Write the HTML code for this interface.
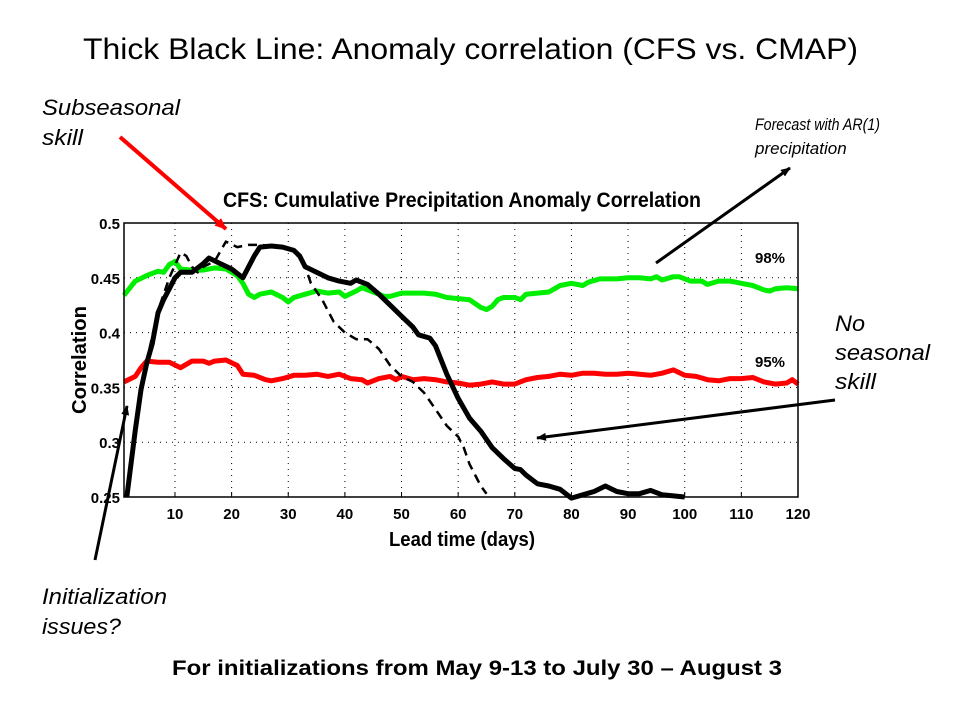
<!DOCTYPE html>
<html><head><meta charset="utf-8"><style>
html,body{margin:0;padding:0;background:#fff;}
svg{display:block;font-family:"Liberation Sans",sans-serif;}
</style></head><body>
<svg id="svg" width="960" height="720" viewBox="0 0 960 720" xmlns="http://www.w3.org/2000/svg">
<defs>
<marker id="ah" markerWidth="10" markerHeight="8" refX="9" refY="4" orient="auto" markerUnits="userSpaceOnUse"><path d="M0,0 L10,4 L0,8 z" fill="#000"/></marker>
<marker id="ahr" markerWidth="12" markerHeight="10" refX="11" refY="5" orient="auto" markerUnits="userSpaceOnUse"><path d="M0,0 L12,5 L0,10 z" fill="#f00"/></marker>
</defs>
<text x="83" y="59" font-size="30" textLength="775" lengthAdjust="spacingAndGlyphs">Thick Black Line: Anomaly correlation (CFS vs. CMAP)</text>
<text x="462" y="207" font-size="21" font-weight="bold" text-anchor="middle" textLength="478" lengthAdjust="spacingAndGlyphs">CFS: Cumulative Precipitation Anomaly Correlation</text>
<g id="grid"></g>
<g id="series"></g>
<rect x="124" y="223" width="674" height="274" fill="none" stroke="#000" stroke-width="1.5"/>
<g id="ticks"></g>
<text x="462" y="546" font-size="20" font-weight="bold" text-anchor="middle" textLength="146" lengthAdjust="spacingAndGlyphs">Lead time (days)</text>
<text transform="translate(86,360) rotate(-90)" font-size="20" font-weight="bold" text-anchor="middle" textLength="108" lengthAdjust="spacingAndGlyphs">Correlation</text>
<text x="755" y="263" font-size="15" font-weight="bold" textLength="30" lengthAdjust="spacingAndGlyphs">98%</text>
<text x="755" y="367" font-size="15" font-weight="bold" textLength="30" lengthAdjust="spacingAndGlyphs">95%</text>
<g font-style="italic" font-size="22">
<text x="42" y="115" textLength="138" lengthAdjust="spacingAndGlyphs">Subseasonal</text>
<text x="42" y="145" textLength="41" lengthAdjust="spacingAndGlyphs">skill</text>
<text x="42" y="604" textLength="125" lengthAdjust="spacingAndGlyphs">Initialization</text>
<text x="42" y="634" textLength="79" lengthAdjust="spacingAndGlyphs">issues?</text>
<text x="835" y="331" textLength="30" lengthAdjust="spacingAndGlyphs">No</text>
<text x="835" y="360" textLength="95" lengthAdjust="spacingAndGlyphs">seasonal</text>
<text x="835" y="389" textLength="41" lengthAdjust="spacingAndGlyphs">skill</text>
</g>
<g font-style="italic" font-size="17">
<text x="755" y="130" textLength="125" lengthAdjust="spacingAndGlyphs">Forecast with AR(1)</text>
<text x="755" y="154">precipitation</text>
</g>
<line x1="120" y1="137" x2="226" y2="229" stroke="#f00" stroke-width="4" marker-end="url(#ahr)"/>
<line x1="656" y1="263" x2="790" y2="168" stroke="#000" stroke-width="3" marker-end="url(#ah)"/>
<line x1="835" y1="400" x2="537" y2="438" stroke="#000" stroke-width="3" marker-end="url(#ah)"/>
<line x1="95" y1="560" x2="127" y2="406" stroke="#000" stroke-width="3" marker-end="url(#ah)"/>
<text x="172" y="675" font-size="21" font-weight="bold" textLength="610" lengthAdjust="spacingAndGlyphs">For initializations from May 9-13 to July 30 – August 3</text>
</svg>
<script>
const xTicks=[10,20,30,40,50,60,70,80,90,100,110,120];
const yTicks=[0.25,0.3,0.35,0.4,0.45,0.5];
const yTickLabels=["0.25","0.3","0.35","0.4","0.45","0.5"];
const greenDays=[1,3,5,7,8,9,10,11,13,15,17,19,21,22,23,24,25,27,29,30,31,33,35,37,39,40,42,43,45,47,48,50,52,54,56,58,60,62,64,65,66,67,68,70,71,72,74,76,77,78,80,82,83,85,88,90,92,94,95,96,98,99,101,103,104,106,108,110,112,114,115,116,118,120];
const greenVals=[0.434,0.447,0.452,0.456,0.455,0.462,0.465,0.458,0.457,0.457,0.459,0.458,0.452,0.445,0.435,0.432,0.435,0.437,0.432,0.428,0.432,0.435,0.438,0.436,0.437,0.433,0.438,0.441,0.437,0.433,0.433,0.436,0.436,0.436,0.435,0.432,0.431,0.43,0.423,0.421,0.424,0.43,0.432,0.432,0.43,0.435,0.436,0.437,0.44,0.443,0.445,0.443,0.446,0.449,0.449,0.45,0.45,0.449,0.451,0.448,0.451,0.451,0.447,0.447,0.444,0.447,0.447,0.445,0.443,0.439,0.438,0.44,0.441,0.44];
const redDays=[1,3,4,5,7,9,11,13,15,16,17,19,21,22,24,26,27,29,31,33,35,37,39,41,43,44,46,48,49,50,52,54,56,58,60,62,64,66,68,70,72,74,76,78,80,82,84,86,88,90,92,94,96,98,100,102,104,106,108,110,112,114,116,118,119,120];
const redVals=[0.355,0.36,0.368,0.374,0.373,0.373,0.368,0.374,0.374,0.372,0.374,0.375,0.37,0.362,0.361,0.357,0.356,0.358,0.361,0.361,0.362,0.36,0.362,0.358,0.357,0.354,0.358,0.36,0.357,0.36,0.357,0.358,0.357,0.355,0.354,0.352,0.353,0.355,0.353,0.353,0.357,0.359,0.36,0.362,0.361,0.363,0.363,0.362,0.362,0.363,0.362,0.361,0.363,0.366,0.361,0.36,0.357,0.356,0.358,0.358,0.359,0.355,0.353,0.354,0.357,0.353];
const cfsDays=[1.5,3,4,5,6,7,8,9,10,11,13,15,16,18,20,22,23,24,25,27,29,31,32,33,35,37,39,41,42,44,46,48,50,52,53,55,56,58,60,62,64,66,68,70,71,72,74,76,78,80,82,84,86,88,90,92,94,96,98,100];
const cfsVals=[0.25,0.311,0.348,0.372,0.39,0.418,0.43,0.44,0.45,0.455,0.455,0.463,0.468,0.463,0.458,0.45,0.46,0.47,0.478,0.479,0.478,0.475,0.47,0.46,0.455,0.45,0.447,0.445,0.448,0.444,0.435,0.425,0.415,0.405,0.398,0.395,0.388,0.362,0.34,0.322,0.31,0.295,0.285,0.276,0.275,0.27,0.262,0.26,0.257,0.249,0.252,0.255,0.26,0.255,0.253,0.253,0.256,0.252,0.251,0.25];
const arDays=[1.5,3,5,7,9,11,12,13,14,15,17,19,21,23,25,28,31,33,34,36,38,40,42,44,46,48,50,52,54,56,58,60,61,62,64,65];
const arVals=[0.25,0.311,0.374,0.42,0.45,0.473,0.47,0.46,0.455,0.46,0.465,0.483,0.478,0.48,0.48,0.479,0.475,0.46,0.445,0.43,0.41,0.4,0.394,0.394,0.385,0.37,0.36,0.355,0.345,0.33,0.315,0.305,0.295,0.28,0.26,0.253];

const X0=124,X1=798,Y0=497,Y1=223,XMIN=1,XMAX=120,YMIN=0.25,YMAX=0.5;
const sx=d=>X0+(d-XMIN)/(XMAX-XMIN)*(X1-X0);
const sy=v=>Y0-(v-YMIN)/(YMAX-YMIN)*(Y0-Y1);
const NS="http://www.w3.org/2000/svg";
function mk(tag,parent,attrs){const e=document.createElementNS(NS,tag);for(const k in attrs)e.setAttribute(k,attrs[k]);parent.appendChild(e);return e;}
const grid=document.getElementById('grid'),ticks=document.getElementById('ticks'),series=document.getElementById('series');
xTicks.forEach(t=>{
  const x=sx(t);
  if(t<XMAX){const g=mk('line',grid,{x1:x,x2:x,y1:Y1,y2:Y0,stroke:'#000','stroke-width':1,'stroke-dasharray':'1,5'});
  
  }
  const tk=mk('line',ticks,{x1:x,x2:x,y1:Y0,y2:Y0-5,stroke:'#000'});
  
  
  const tl=mk('text',ticks,{x:x,y:Y0+22,'font-size':15,'font-weight':'bold','text-anchor':'middle'});
  tl.textContent=t;
  
  
});
yTicks.forEach((t,i)=>{
  const y=sy(t);
  if(t>YMIN&&t<YMAX){const g=mk('line',grid,{x1:X0,x2:X1,y1:y,y2:y,stroke:'#000','stroke-width':1,'stroke-dasharray':'1,5'});
  
  }
  const tl=mk('text',ticks,{x:X0-4,y:y+6,'font-size':15,'font-weight':'bold','text-anchor':'end'});
  tl.textContent=yTickLabels[i];
  
  
});
function line(days,vals,color,w,dash,name){
  const p=mk('polyline',series,{points:days.map((d,i)=>sx(d).toFixed(1)+','+sy(vals[i]).toFixed(1)).join(' '),fill:'none',stroke:color,'stroke-width':w,'stroke-linejoin':'round'});
  if(dash)p.setAttribute('stroke-dasharray',dash);
  
  
}
line(greenDays,greenVals,'#00ee00',5,null,'line-98-percent');
line(redDays,redVals,'#ff0000',5,null,'line-95-percent');
line(arDays,arVals,'#000',2.5,'9,6','line-ar1-forecast');
line(cfsDays,cfsVals,'#000',5,null,'line-cfs-correlation');
</script>
</body></html>
